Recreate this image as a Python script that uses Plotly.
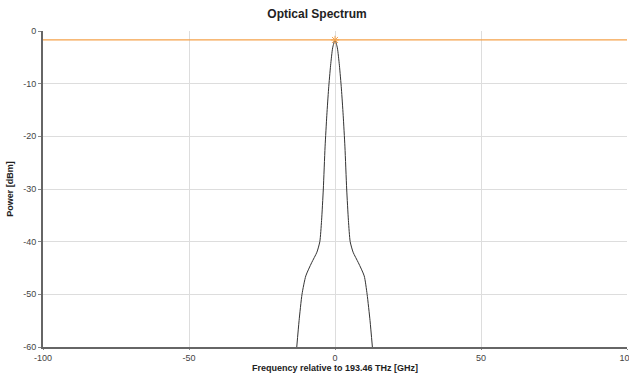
import plotly.graph_objects as go

# Spectrum trace (GHz, dBm)
freq = [-13.1, -12.3, -11.3, -10.0, -8.0, -6.2, -5.2, -4.6, -4.0, -3.4, -2.8, -2.2, -1.5, -0.8, 0.0,
        0.8, 1.5, 2.2, 2.8, 3.4, 4.0, 4.6, 5.2, 6.2, 8.0, 10.0, 11.0, 12.0, 12.8]
power = [-60, -55, -50, -46.5, -44, -42, -40, -36, -30, -22, -16, -11, -6.5, -3.2, -1.7,
         -3.2, -6.5, -11, -16, -22, -30, -36, -40, -42, -44, -46.5, -50, -55, -60]

# Peak marker line
peak_x = [-100, 100]
peak_y = [-1.7, -1.7]
peak_pt_x = [0]
peak_pt_y = [-1.7]

x_ticks = [-100, -50, 0, 50, 100]
y_ticks = [0, -10, -20, -30, -40, -50, -60]

fig = go.Figure()
fig.add_trace(go.Scatter(x=freq, y=power, mode="lines",
                         line=dict(color="#333333", width=1, shape="spline", smoothing=0.6),
                         showlegend=False))
fig.add_trace(go.Scatter(x=peak_x, y=peak_y, mode="lines",
                         line=dict(color="#f5a24a", width=1.2), showlegend=False))
fig.add_trace(go.Scatter(x=peak_pt_x, y=peak_pt_y, mode="markers",
                         marker=dict(symbol="asterisk-open", size=7, color="#f5a24a",
                                     line=dict(color="#f5a24a", width=1)),
                         showlegend=False))

fig.update_layout(
    width=629, height=373,
    margin=dict(l=43, r=2, t=31, b=26, autoexpand=False),
    paper_bgcolor="white", plot_bgcolor="white",
    font=dict(family="Liberation Sans, Arial, sans-serif", size=9, color="#444444"),
    title=dict(text="<b>Optical Spectrum</b>", x=0.504, xanchor="center",
               y=0.975, yanchor="top", font=dict(size=12, color="#222222")),
    annotations=[
        dict(text="<b>Frequency relative to 193.46 THz [GHz]</b>", xref="paper", yref="paper",
             x=0.5, y=-0.045, xanchor="center", yanchor="top", showarrow=False,
             font=dict(size=9, color="#222222")),
        dict(text="<b>Power [dBm]</b>", xref="paper", yref="paper",
             x=-0.045, y=0.5, xanchor="right", yanchor="middle", textangle=-90,
             showarrow=False, font=dict(size=9, color="#222222")),
    ],
)
fig.update_xaxes(range=[-100, 100], tickvals=x_ticks, ticktext=[str(v) for v in x_ticks],
                 showgrid=True, gridcolor="#dddddd", gridwidth=1,
                 showline=True, linecolor="#666666", linewidth=2,
                 ticks="outside", ticklen=1, tickcolor="#888888",
                 ticklabeloverflow="allow",
                 zeroline=False, automargin=False)
fig.update_yaxes(range=[-60, 0], tickvals=y_ticks, ticktext=[str(v) for v in y_ticks],
                 showgrid=True, gridcolor="#dddddd", gridwidth=1,
                 showline=True, linecolor="#666666", linewidth=2,
                 ticks="outside", ticklen=3, tickcolor="#888888",
                 ticklabeloverflow="allow",
                 zeroline=False, automargin=False)

fig.write_html("out.html", config={"displayModeBar": False},
               post_script="document.body.style.margin='0';document.body.style.overflow='hidden';")
